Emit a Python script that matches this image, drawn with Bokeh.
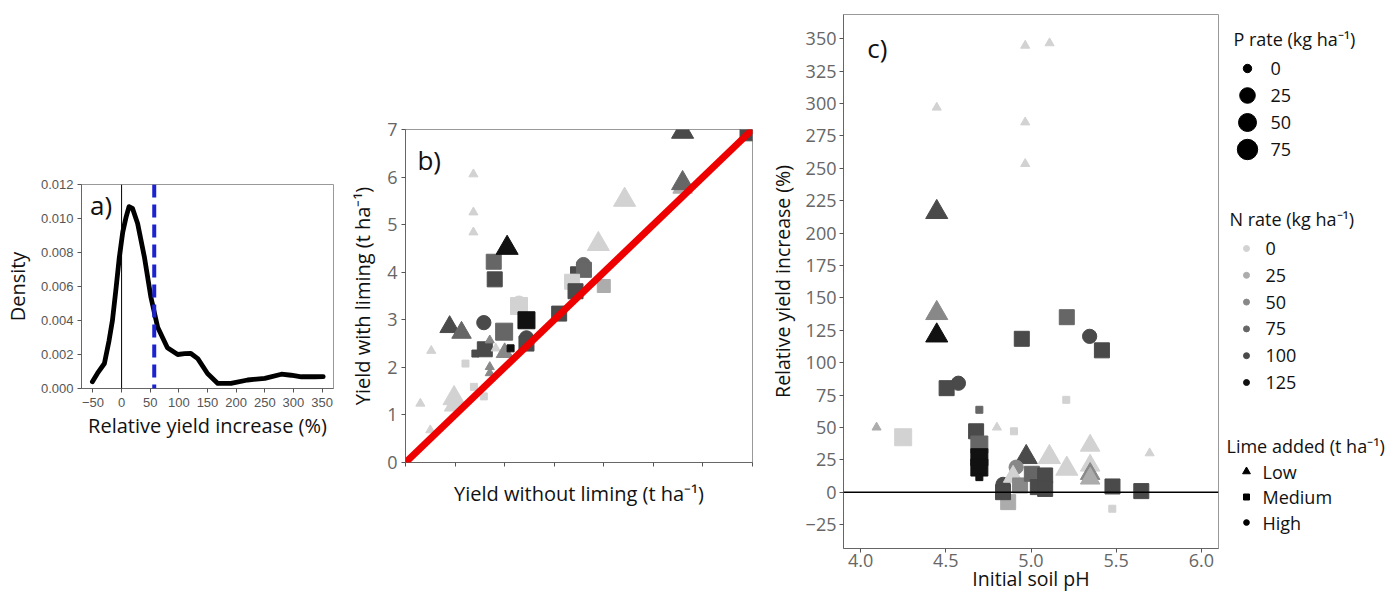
from bokeh.plotting import figure
from bokeh.layouts import row
from bokeh.models import (Range1d, FixedTicker, NumeralTickFormatter, Span, Slope,
                          Label, ColumnDataSource)
from bokeh.core.properties import value
from bokeh.embed import file_html
from bokeh.resources import INLINE

# ---------------- data ----------------
# a) density of relative yield increase (%)
dens_x = [-51, -42, -30, -22, -16, -10, -4, 2, 8, 13, 19, 28, 40, 51, 63, 80, 98,
          110, 121, 133, 150, 168, 191, 220, 250, 279, 296, 314, 337, 352]
dens_y = [0.0004, 0.0009, 0.00147, 0.0028, 0.0040, 0.0058, 0.0077, 0.0092, 0.0101,
          0.0107, 0.0106, 0.0097, 0.0077, 0.0054, 0.0036, 0.0024, 0.0020, 0.00205,
          0.00206, 0.00176, 0.00088, 0.0003, 0.0003, 0.0005, 0.0006, 0.00084,
          0.00078, 0.00069, 0.00069, 0.0007]
mean_ryi = 57

# b) yield without vs with liming (t/ha)
b_without = [0.30, 0.50, 0.52, 0.98, 0.98, 1.37, 1.37, 1.37, 1.21, 1.38, 1.58,
             0.89, 1.13, 1.58, 1.60, 1.41, 1.70, 1.70, 1.70, 1.82, 2.00, 2.12,
             1.99, 1.78, 1.80, 2.05, 2.29, 2.29, 2.44, 2.44, 2.44, 3.10, 3.40,
             3.59, 3.60, 3.36, 3.43, 4.00, 3.89, 4.42, 5.59, 5.59, 5.59, 6.90]
b_with = [1.24, 0.68, 2.35, 1.35, 1.20, 6.06, 5.26, 4.84, 2.08, 1.59, 1.39,
          2.85, 2.73, 2.94, 2.38, 2.29, 2.57, 2.01, 1.88, 2.40, 2.31, 2.40,
          2.75, 4.22, 3.85, 4.51, 3.29, 3.35, 2.99, 2.62, 2.50, 3.13, 4.04,
          4.16, 4.05, 3.80, 3.60, 3.71, 4.59, 5.52, 5.78, 5.87, 6.95, 6.92]
b_lime = ["Low", "Low", "Low", "Low", "Low", "Low", "Low", "Low", "Medium", "Medium", "Medium",
          "Low", "Low", "High", "Medium", "Medium", "Low", "Low", "Low", "Low", "Low", "Medium",
          "Medium", "Medium", "Medium", "Low", "Medium", "High", "Medium", "High", "Medium", "Medium", "Medium",
          "High", "Medium", "Medium", "Medium", "Medium", "Low", "Low", "Low", "Low", "Low", "Medium"]
b_n = [0, 0, 0, 0, 0, 0, 0, 0, 0, 0, 0,
       100, 75, 100, 100, 100, 50, 50, 50, 0, 50, 125,
       75, 75, 100, 125, 0, 0, 125, 100, 100, 100, 100,
       75, 75, 0, 100, 25, 0, 0, 25, 75, 100, 100]
b_p = [0, 0, 0, 75, 50, 0, 0, 0, 0, 0, 0,
       50, 50, 50, 50, 0, 0, 0, 0, 0, 25, 0,
       75, 50, 50, 75, 75, 50, 75, 50, 50, 50, 0,
       50, 50, 50, 50, 25, 75, 75, 50, 75, 75, 50]

# c) initial soil pH vs relative yield increase (%)
c_ph = [4.447, 4.966, 5.109, 4.966, 4.966, 4.447, 4.447, 4.447, 4.505, 4.574,
        4.094, 4.250, 4.697, 4.678, 4.697, 4.697, 4.697, 4.697, 4.800, 4.900,
        4.946, 5.210, 5.344, 5.416, 5.207, 4.972, 5.108, 5.210, 5.347, 5.347,
        5.347, 5.347, 5.696, 5.478, 5.647, 5.477, 4.866, 4.836, 4.836, 4.913,
        4.895, 4.936, 5.005, 5.040, 5.083, 5.083]
c_ryi = [297, 344.8, 346.7, 285.6, 253.5, 216.2, 138.2, 120.9, 80.3, 84.1,
         50, 42.4, 63.6, 47, 36.8, 27, 19, 11.6, 50, 47,
         118.4, 135.1, 120.3, 109.5, 71.3, 27, 27, 18, 36, 20.6,
         14.2, 10.6, 30.1, 4.4, 0.8, -12.8, -7.7, 6, 0, 19.3,
         12, 5.2, 14.2, 3.9, 12.9, 2.5]
c_lime = ["Low", "Low", "Low", "Low", "Low", "Low", "Low", "Low", "Medium", "High",
          "Low", "Medium", "Medium", "Medium", "Medium", "Medium", "Medium", "Medium", "Low", "Medium",
          "Medium", "Medium", "High", "Medium", "Medium", "Low", "Low", "Low", "Low", "Low",
          "Low", "Low", "Low", "Medium", "Medium", "Medium", "Medium", "High", "Medium", "High",
          "Low", "Medium", "Medium", "Medium", "Medium", "Medium"]
c_n = [0, 0, 0, 0, 0, 100, 50, 125, 100, 100,
       25, 0, 75, 100, 75, 125, 125, 125, 0, 0,
       100, 75, 100, 100, 0, 100, 0, 0, 0, 0,
       50, 25, 0, 100, 100, 0, 25, 100, 100, 50,
       0, 50, 75, 100, 100, 100]
c_p = [0, 0, 0, 0, 0, 75, 75, 75, 50, 50,
       0, 75, 0, 50, 75, 75, 75, 0, 0, 0,
       50, 50, 50, 50, 0, 75, 75, 75, 50, 50,
       50, 50, 0, 50, 50, 0, 50, 50, 50, 50,
       50, 50, 50, 50, 50, 50]

p_rates = [0, 25, 50, 75]
n_rates = [0, 25, 50, 75, 100, 125]
lime_levels = ["Low", "Medium", "High"]

# ---------------- styles ----------------
N_COLOR = {0: "#d2d2d2", 25: "#acacac", 50: "#888888", 75: "#666666", 100: "#4a4a4a", 125: "#111111"}
MARKER = {"Low": "triangle", "Medium": "square", "High": "circle"}
P_SIZE = {0: 7, 25: 13, 50: 15, 75: 17}
SHAPE_F = {"Low": 1.3, "Medium": 1.0, "High": 0.95}

FONT = "Open Sans"
H = 598


def point_source(xs, ys, lime, n, p):
    return ColumnDataSource(dict(
        x=xs, y=ys,
        marker=[MARKER[l] for l in lime],
        color=[N_COLOR[v] for v in n],
        size=[P_SIZE[pp] * SHAPE_F[l] for pp, l in zip(p, lime)],
    ))


def style(p, tick_font, tick_size, tick_color, label_size):
    for ax in p.axis:
        ax.axis_label_text_font = FONT
        ax.axis_label_text_font_style = "normal"
        ax.axis_label_text_font_size = label_size
        ax.axis_label_text_color = "#111111"
        ax.major_label_text_font = tick_font
        ax.major_label_text_font_size = tick_size
        ax.major_label_text_color = tick_color
        ax.minor_tick_line_color = None
        ax.major_tick_line_color = "#555555"
        ax.major_tick_out = 4
        ax.major_tick_in = 0
        ax.axis_line_color = "#666666"
    p.grid.visible = False
    p.outline_line_color = "#999999"
    p.outline_line_width = 1
    p.background_fill_color = "white"
    p.border_fill_color = "white"


def panel_label(p, x, y, text):
    p.add_layout(Label(x=x, y=y, text=text, text_font=FONT, text_font_size="26px",
                       text_baseline="middle", text_align="left", text_color="#111111"))


# ---------------- panel a ----------------
pa = figure(width=345, height=H, x_range=Range1d(-70, 370), y_range=Range1d(0, 0.012),
            toolbar_location=None, output_backend="svg", frame_align=False,
            min_border_left=81, min_border_right=12, min_border_top=184, min_border_bottom=H - 388)
style(pa, "Liberation Sans", "13px", "#555555", "20px")
pa.xaxis.ticker = FixedTicker(ticks=[-50, 0, 50, 100, 150, 200, 250, 300, 350])
pa.yaxis.ticker = FixedTicker(ticks=[0, 0.002, 0.004, 0.006, 0.008, 0.010, 0.012])
pa.yaxis.formatter = NumeralTickFormatter(format="0.000")
pa.xaxis.axis_label = "Relative yield increase (%)"
pa.yaxis.axis_label = "Density"
pa.xaxis.major_label_standoff = 5
pa.xaxis.axis_label_standoff = 2
pa.yaxis.major_label_standoff = 4
pa.yaxis.axis_label_standoff = 7
pa.add_layout(Span(location=0, dimension="height", line_color="black", line_width=1))
pa.line(dens_x, dens_y, line_width=4.8, line_color="black", line_cap="round", line_join="round")
pa.add_layout(Span(location=mean_ryi, dimension="height", line_color="#1c22d0",
                   line_width=4, line_dash="13 7"))
panel_label(pa, -55, 0.0108, "a)")

# ---------------- panel b ----------------
pb = figure(width=420, height=H, x_range=Range1d(0, 7), y_range=Range1d(0, 7),
            toolbar_location=None, output_backend="svg", frame_align=False,
            min_border_left=60, min_border_right=13, min_border_top=129, min_border_bottom=H - 462)
style(pb, FONT, "18px", "#666666", "20px")
pb.xaxis.ticker = FixedTicker(ticks=list(range(0, 8)))
pb.yaxis.ticker = FixedTicker(ticks=list(range(0, 8)))
pb.xaxis.major_label_overrides = {i: "" for i in range(0, 8)}
pb.xaxis.axis_label = "Yield without liming (t ha\u207b\u00b9)"
pb.yaxis.axis_label = "Yield with liming (t ha\u207b\u00b9)"
pb.xaxis.axis_label_standoff = 13
pb.yaxis.major_label_standoff = 4
pb.yaxis.axis_label_standoff = 8
srcb = point_source(b_without, b_with, b_lime, b_n, b_p)
pb.scatter("x", "y", marker="marker", size="size", fill_color="color", line_color="color", source=srcb)
pb.add_layout(Slope(gradient=1, y_intercept=0, line_color="#ee0000", line_width=7))
panel_label(pb, 0.24, 6.35, "b)")

# ---------------- panel c ----------------
pc = figure(width=457, height=H, x_range=Range1d(3.9, 6.1), y_range=Range1d(-43.5, 368.8),
            toolbar_location=None, output_backend="svg", frame_align=False,
            min_border_left=78, min_border_right=4, min_border_top=14, min_border_bottom=H - 548)
style(pc, FONT, "18px", "#666666", "19.5px")
pc.xaxis.ticker = FixedTicker(ticks=[4.0, 4.5, 5.0, 5.5, 6.0])
pc.xaxis.formatter = NumeralTickFormatter(format="0.0")
yt = list(range(-25, 351, 25))
pc.yaxis.ticker = FixedTicker(ticks=yt)
pc.yaxis.major_label_overrides = {-25: "\u221225"}
pc.xaxis.axis_label = "Initial soil pH"
pc.yaxis.axis_label = "Relative yield increase (%)"
pc.xaxis.major_label_standoff = 1
pc.xaxis.axis_label_standoff = -5
pc.yaxis.major_label_standoff = 3
pc.yaxis.axis_label_standoff = 7
pc.add_layout(Span(location=0, dimension="width", line_color="black", line_width=1.5))
srcc = point_source(c_ph, c_ryi, c_lime, c_n, c_p)
pc.scatter("x", "y", marker="marker", size="size", fill_color="color", line_color="color", source=srcc)
panel_label(pc, 4.04, 343, "c)")

# ---------------- legend panel ----------------
pl = figure(width=170, height=H, x_range=Range1d(0, 170), y_range=Range1d(H, 0),
            toolbar_location=None, output_backend="svg", min_border=0, frame_align=False,
            x_axis_location=None, y_axis_location=None, outline_line_color=None)
pl.grid.visible = False


def add_text(xs, ys, texts, size="18px"):
    pl.text(x=xs, y=ys, text=texts, text_font=value(FONT), text_font_size=size,
            text_baseline="middle", text_align="left", text_color="#111111")


# P rate
P_TOP, P_OFF, P_STEP = 38, 30, 27.0
add_text([11], [P_TOP], ["P rate (kg ha\u207b\u00b9)"])
py = [P_TOP + P_OFF + i * P_STEP for i in range(len(p_rates))]
pl.scatter([25] * len(p_rates), py, marker="circle", size=[P_SIZE[v] * 1.2 for v in p_rates],
           fill_color="black", line_color="black")
add_text([48] * len(p_rates), py, [str(v) for v in p_rates])

# N rate
N_TOP, N_OFF, N_STEP = 218, 30, 26.8
add_text([7], [N_TOP], ["N rate (kg  ha\u207b\u00b9)"])
ny = [N_TOP + N_OFF + i * N_STEP for i in range(len(n_rates))]
pl.scatter([24] * len(n_rates), ny, marker="circle", size=6,
           fill_color=[N_COLOR[v] for v in n_rates], line_color=[N_COLOR[v] for v in n_rates])
add_text([43] * len(n_rates), ny, [str(v) for v in n_rates])

# Lime
L_TOP, L_OFF, L_STEP = 445, 26, 25.5
add_text([4], [L_TOP], ["Lime added (t ha\u207b\u00b9)"])
ly = [L_TOP + L_OFF + i * L_STEP for i in range(len(lime_levels))]
pl.scatter([24] * len(lime_levels), ly, marker=[MARKER[l] for l in lime_levels],
           size=[6 * SHAPE_F[l] for l in lime_levels], fill_color="black", line_color="black")
add_text([40] * len(lime_levels), ly, lime_levels)

layout = row(pa, pb, pc, pl)
open("out.html", "w").write(file_html(layout, INLINE))
